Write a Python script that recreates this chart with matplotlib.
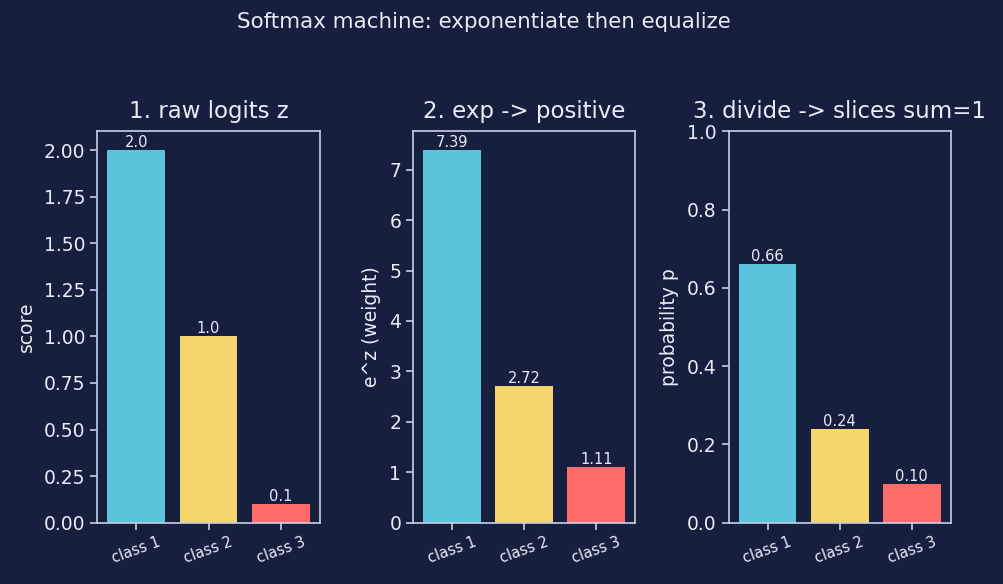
import numpy as np
import matplotlib
matplotlib.use("Agg")
import matplotlib.pyplot as plt

# Data
classes = ["class 1", "class 2", "class 3"]
logits = [2.0, 1.0, 0.1]
exp_vals = [7.39, 2.72, 1.11]
probs = [0.66, 0.24, 0.10]
bar_colors = ["#5bc4dc", "#f3d76e", "#ff6b6b"]

BG = "#161f3e"
FG = "#e8ecf6"
SPINE = "#c8d0e6"

plt.rcParams["font.family"] = "DejaVu Sans"

fig, axes = plt.subplots(1, 3, figsize=(10.04, 5.84), dpi=100)
fig.patch.set_facecolor(BG)

panels = [
    (logits, "1. raw logits z", "score", 2.1, "{:.1f}"),
    (exp_vals, "2. exp -> positive", "e^z (weight)", 7.39 * 1.05, "{:.2f}"),
    (probs, "3. divide -> slices sum=1", "probability p", 1.0, "{:.2f}"),
]

for ax, (vals, title, ylabel, ymax, fmt) in zip(axes, panels):
    ax.set_facecolor(BG)
    x = np.arange(len(classes))
    bars = ax.bar(x, vals, color=bar_colors, width=0.8)
    for b, v in zip(bars, vals):
        ax.text(b.get_x() + b.get_width() / 2, b.get_height(), fmt.format(v),
                ha="center", va="bottom", color=FG, fontsize=10.5)
    ax.set_xticks(x)
    ax.set_xticklabels(classes, rotation=20, color=FG)
    ax.set_ylim(0, ymax)
    ax.set_title(title, color=FG, fontsize=16.5, pad=10)
    ax.set_ylabel(ylabel, color=FG, fontsize=13.5, labelpad=6)
    ax.tick_params(colors=SPINE, labelcolor=FG, labelsize=13.5, width=1.2, length=5)
    ax.tick_params(axis="x", labelsize=10.5)
    for s in ax.spines.values():
        s.set_color(SPINE)
        s.set_linewidth(1.2)

fig.suptitle("Softmax machine: exponentiate then equalize", color=FG, fontsize=15.4, x=0.482, y=0.98)
fig.subplots_adjust(left=0.097, right=0.947, top=0.775, bottom=0.105, wspace=0.42)
fig.savefig("out.png", facecolor=BG)
